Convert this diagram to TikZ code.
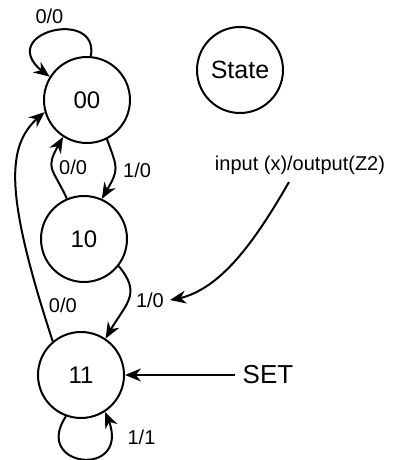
\documentclass[tikz,border=0pt]{standalone}
\usepackage{fontspec}
\setmainfont{Liberation Sans}
\usepackage{tikz}
\usetikzlibrary{calc, arrows, shapes}
\usetikzlibrary{arrows.meta}
\usetikzlibrary{bending}
\tikzset{>={Stealth[length=8pt,width=6.5pt]}}
\tikzset{fsmstate/.style={circle, draw, line width=1pt, minimum size=43pt, inner sep=0pt, font=\fontsize{12}{14}\selectfont}}

\begin{document}
\begin{tikzpicture}[x=0.5pt, y=-0.5pt, line width=1pt]
\useasboundingbox (0,0) rectangle (394,460);
\node[fsmstate] (s00) at (87,100) {00};
\node[fsmstate] (s10) at (84,239) {10};
\node[fsmstate] (s11) at (81,375) {11};
\node[fsmstate, font=\fontsize{12.5}{15}\selectfont] (st) at (240,70) {State};
\node[font=\fontsize{10}{12}\selectfont] (legend) at (300,165) {input (x)/output(Z2)};
\node[font=\fontsize{13}{15}\selectfont] (set) at (268,375) {SET};
\coordinate (tip) at (170,300);

\path[->, font=\fontsize{10}{12}\selectfont]
(s00.-63)
edge [out=-70, in=60, looseness=1.5] node[right] {1/0} (s10.66)
(s10.113)
edge [out=115, in=-120, looseness=1.6] node[right] {0/0} (s00.-123)
(s10.-38)
edge [out=-50, in=62, looseness=1.35] node[right] {1/0} (s11.56)
;
% self loops
\draw[->] (s00.85) .. controls (100,5) and (-15,35) .. (s00.148)
  node[pos=0.5, above, font=\fontsize{10}{12}\selectfont] {0/0};
\draw[->] (s11.-110) .. controls (30,470) and (140,480) .. (s11.-57)
  node[pos=0.85, right=4pt, font=\fontsize{10}{12}\selectfont] {1/1};
% reset path
\draw[->] (s11.130) .. controls (0,180) and (8,140) .. (s00.196)
  node[pos=0.08, right, font=\fontsize{10}{12}\selectfont] {0/0};
\draw[->] (set.west) -- (s11.east);
\draw[->] ([xshift=-5.5pt]legend.south) .. controls (250,250) and (215,295) .. (tip);
\end{tikzpicture}
\end{document}
